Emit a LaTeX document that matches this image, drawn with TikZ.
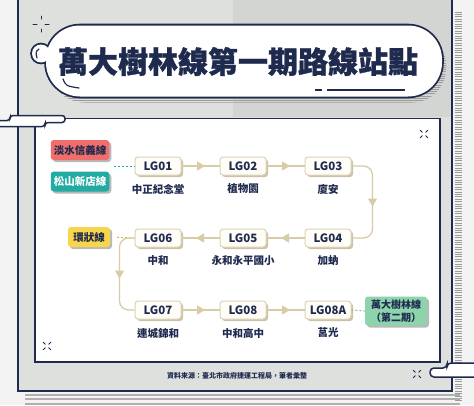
\documentclass[tikz,border=0pt]{standalone}
\usepackage{fontspec}
\setmainfont{Noto Sans CJK TC}
\usetikzlibrary{positioning,arrows.meta,decorations.markings,shadows}

\definecolor{navy}{HTML}{1F2A4F}
\definecolor{panelgray}{HTML}{DDE0DC}
\definecolor{panelshade}{HTML}{D3D5D2}
\definecolor{outbg}{HTML}{F3F3F3}
\definecolor{hatch}{HTML}{9C9C9C}
\definecolor{beige}{HTML}{D7CCA6}
\definecolor{stborder}{HTML}{DCD3B6}
\definecolor{stfill}{HTML}{FFFDF7}
\definecolor{stshadow}{HTML}{CCC3A6}
\definecolor{lred}{HTML}{EF6E6C}
\definecolor{lteal}{HTML}{21ABA3}
\definecolor{lyellow}{HTML}{F8D64B}
\definecolor{lgreen}{HTML}{8DD3AC}
\definecolor{boxshadow}{HTML}{B9B9B9}

\tikzset{
  station/.style={draw=stborder, line width=1pt, fill=stfill, rounded corners=3pt,
    minimum width=46pt, minimum height=18pt, inner sep=1pt, text=navy,
    font=\bfseries\fontsize{11.5}{12}\selectfont,
    drop shadow={shadow xshift=2pt, shadow yshift=-2pt, fill=stshadow, opacity=1}},
  stname/.style={text=navy, font=\bfseries\fontsize{10.5}{12}\selectfont, inner sep=1pt},
  linebox/.style={rounded corners=3pt, minimum height=20pt, inner xsep=3pt, text=navy,
    font=\bfseries\fontsize{10.5}{12}\selectfont,
    drop shadow={shadow xshift=2pt, shadow yshift=-2pt, fill=boxshadow, opacity=1}},
  flow/.style={draw=beige, line width=1.3pt, rounded corners=9pt, postaction={decorate},
    decoration={markings, mark=at position 0.5 with
      {\arrow[xshift=4.5pt, beige]{Triangle[width=9pt,length=8pt]}}}},
  transfer/.style={line width=1pt, dash pattern=on 2pt off 2pt},
  sparkle/.style={navy, line width=1pt, line cap=round},
  frame/.style={navy, line width=1.5pt}
}

\begin{document}
\begin{tikzpicture}[x=1pt,y=-1pt]
\useasboundingbox (0,0) rectangle (474,405);
\fill[outbg] (0,0) rectangle (474,405);

% outer panel
\draw[frame, fill=panelgray] (18,-5) rectangle (452,391);
\fill[panelshade] (233,0) rectangle (451.2,117);
\foreach \hy in {12,14.4,...,402} \draw[hatch, line width=0.8pt] (455,\hy) -- (462,\hy);
\foreach \hy in {394.5,399,403.5} \draw[hatch!80, line width=2pt] (25,\hy) -- (460,\hy);

% inner panel
\draw[frame, fill=white] (35,118.5) rectangle (440,362);

% tabs
\draw[frame, fill=white, rounded corners=3pt] (-3,120.5) -- (10,120.5) -- (10,115.5) -- (65,115.5)
  -- (65,122.5) -- (45,122.5) -- (45,126.5) -- (-3,126.5);
\draw[frame, fill=white, rounded corners=4pt] (477,377) -- (430,377) -- (430,368) -- (447,368)
  -- (447,363) -- (477,363);

% title pill shadow
\begin{scope}
\clip[rounded corners=34pt] (50,31) rectangle (446,102.5);
\foreach \hy in {30,32.2,...,104} \draw[hatch, line width=0.8pt] (40,\hy) -- (450,\hy);
\end{scope}

% title pill
\draw[navy, line width=3.6pt] (41,53.5) circle (9);
\draw[navy, line width=3.6pt, rounded corners=34pt] (46,25.5) rectangle (442,96.5);
\fill[white] (41,53.5) circle (9);
\fill[white, rounded corners=34pt] (46,25.5) rectangle (442,96.5);
\draw[navy, line width=1.2pt, line cap=round] (39,49) .. controls (35.5,52) .. (37,58);
\draw[navy, line width=1.2pt, line cap=round] (63,79) .. controls (66,86) .. (79,88);
\draw[navy, line width=1.2pt] (315,90) -- (322,90);
\draw[navy, line width=1.2pt] (327,90) -- (405,90);

\node[text=navy, font=\fontsize{30}{34}\selectfont\bfseries\addfontfeatures{FakeBold=1}]
  (title) at (238,61.5) {萬大樹林線第一期路線站點};

% sparkles
\draw[sparkle] (33,24) -- (37,24);
\draw[sparkle] (45,24) -- (49,24);
\draw[sparkle] (41,16) -- (41,19);
\draw[sparkle] (41,29) -- (41,32);
\foreach \cx/\cy in {424/134, 47/346, 417/374}
  \foreach \ang in {45,135,225,315}
    \draw[sparkle] (\cx,\cy) ++(\ang:2.5) -- ++(\ang:3);

% stations
\node[station] (LG01) at (158,166) {LG01};
\node[station] (LG02) at (243,166) {LG02};
\node[station] (LG03) at (328,166) {LG03};
\node[station] (LG04) at (328,238) {LG04};
\node[station] (LG05) at (243,238) {LG05};
\node[station] (LG06) at (158,238) {LG06};
\node[station] (LG07) at (158,310) {LG07};
\node[station] (LG08) at (243,310) {LG08};
\node[station] (LG08A) at (328,310) {LG08A};

\node[stname] (n01) at (158,189) {中正紀念堂};
\node[stname] (n02) at (243,189) {植物園};
\node[stname] (n03) at (328,189) {廈安};
\node[stname] (n04) at (328,261) {加蚋};
\node[stname] (n05) at (243,261) {永和永平國小};
\node[stname] (n06) at (158,261) {中和};
\node[stname] (n07) at (158,333) {連城錦和};
\node[stname] (n08) at (243,333) {中和高中};
\node[stname] (n08a) at (328,333) {莒光};

% transfer lines
\node[linebox, fill=lred, minimum width=58pt] (tamsui) at (80,150) {淡水信義線};
\node[linebox, fill=lteal, text=white, minimum width=58pt] (songshan) at (80,181.5) {松山新店線};
\node[linebox, fill=lyellow, minimum width=42pt] (circular) at (89,237) {環狀線};
\node[linebox, fill=lgreen, minimum width=62pt, minimum height=29pt, align=center,
  font=\bfseries\fontsize{10}{12.5}\selectfont] (wanda2) at (396,311) {萬大樹林線\\（第二期）};
\coordinate (xfer) at (114,166);

\draw[transfer, lteal] (xfer) -- (LG01.west);
\draw[transfer, lyellow!85!black, shorten <=7pt] (circular.east) -- (LG06.west);
\draw[transfer, lgreen!70!gray] (LG08A.east) -- (wanda2.west);

% route
\draw[flow] (LG01.east) -- (LG02.west);
\draw[flow] (LG02.east) -- (LG03.west);
\draw[flow] (LG03.east) -- ++(21,0) |- (LG04.east);
\draw[flow] (LG04.west) -- (LG05.east);
\draw[flow] (LG05.west) -- (LG06.east);
\draw[flow] (LG06.west) -- ++(-15,0) |- (LG07.west);
\draw[flow] (LG07.east) -- (LG08.west);
\draw[flow] (LG08.east) -- (LG08A.west);

\node[text=navy, font=\bfseries\fontsize{7}{8}\selectfont] (src) at (237,376)
  {資料來源：臺北市政府捷運工程局，筆者彙整};
\end{tikzpicture}
\end{document}
